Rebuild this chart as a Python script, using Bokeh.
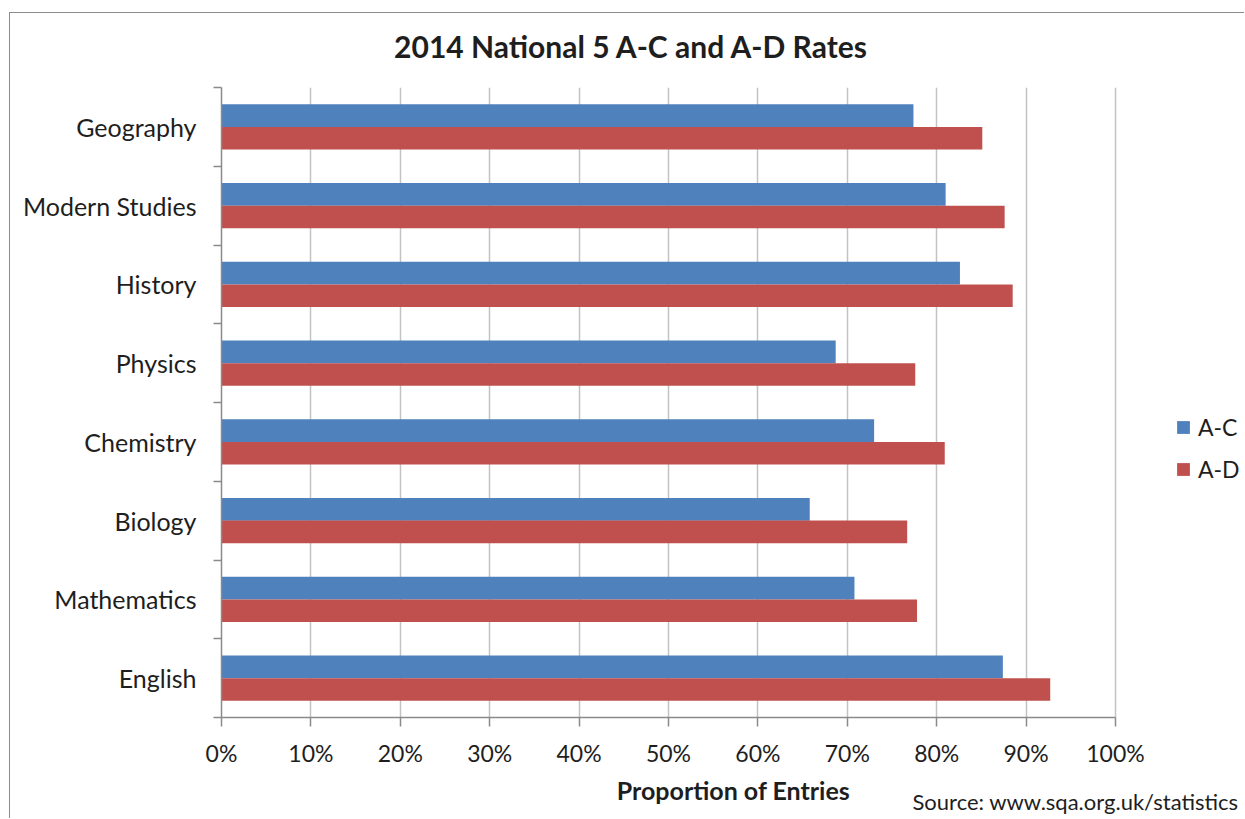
from bokeh.plotting import figure
from bokeh.models import (Range1d, FixedTicker, PrintfTickFormatter, Label,
                          Legend, LegendItem, ColumnDataSource)
from bokeh.embed import file_html
from bokeh.resources import INLINE

# ---- data (bottom to top, as in the chart) ----
subjects = ["English", "Mathematics", "Biology", "Chemistry", "Physics",
            "History", "Modern Studies", "Geography"]
rate_ac = [87.4, 70.8, 65.8, 73.0, 68.7, 82.6, 81.0, 77.4]
rate_ad = [92.7, 77.8, 76.7, 80.9, 77.6, 88.5, 87.6, 85.1]
x_tick_values = [0, 10, 20, 30, 40, 50, 60, 70, 80, 90, 100]
series_names = ["A-C", "A-D"]

title_text = "2014 National 5 A-C and A-D Rates"
x_label = "Proportion of Entries"
source_text = "Source: www.sqa.org.uk/statistics"

FONT = "Lato"
BLUE = "#4F81BD"
RED = "#C0504D"
TXT = "#1e1e1e"
AXIS = "#8a8a8a"
GRID = "#c3c3c3"

W, H = 1235, 806
LEFT = 211
PX_PER_UNIT = 8.94          # width of 1 % on screen
x_end = (W - LEFT) / PX_PER_UNIT   # frame runs to the right edge so the legend fits in it

p = figure(width=W, height=H, output_backend="svg", toolbar_location=None,
           x_range=Range1d(0, x_end), y_range=Range1d(0, len(subjects)),
           min_border_left=LEFT, min_border_right=0,
           min_border_top=74, min_border_bottom=102)
p.title = None
p.outline_line_color = None
p.background_fill_color = "white"
p.border_fill_color = "white"
p.styles = {"margin-left": "9px", "margin-top": "12px",
            "border-left": "1px solid #8c8c8c", "border-top": "1px solid #8c8c8c"}

centers = [i + 0.5 for i in range(len(subjects))]
bh = 0.286
src = ColumnDataSource(dict(
    y_ac=[c + bh / 2 for c in centers],
    y_ad=[c - bh / 2 for c in centers],
    ac=rate_ac, ad=rate_ad))

r_ac = p.hbar(y="y_ac", left=0, right="ac", height=bh, source=src,
              fill_color=BLUE, line_color=None)
r_ad = p.hbar(y="y_ad", left=0, right="ad", height=bh, source=src,
              fill_color=RED, line_color=None)

# x axis
xa = p.xaxis[0]
xa.ticker = FixedTicker(ticks=x_tick_values, minor_ticks=[])
xa.bounds = (x_tick_values[0], x_tick_values[-1])
xa.formatter = PrintfTickFormatter(format="%d%%")
xa.axis_line_color = AXIS
xa.axis_line_width = 1.5
xa.major_tick_line_color = AXIS
xa.major_tick_line_width = 1.5
xa.major_tick_out = 9
xa.major_tick_in = 0
xa.major_label_standoff = 12
xa.major_label_text_font = FONT
xa.major_label_text_font_size = "23px"
xa.major_label_text_color = TXT
xa.axis_label = x_label
xa.axis_label_text_font = FONT
xa.axis_label_text_font_size = "25px"
xa.axis_label_text_font_style = "bold"
xa.axis_label_text_color = TXT
xa.axis_label_standoff = 5

# y axis
ya = p.yaxis[0]
ya.ticker = FixedTicker(ticks=centers, minor_ticks=list(range(len(subjects) + 1)))
ya.major_label_overrides = {c: s for c, s in zip(centers, subjects)}
ya.axis_line_color = AXIS
ya.axis_line_width = 1.5
ya.major_tick_out = 0
ya.major_tick_in = 0
ya.minor_tick_out = 8
ya.minor_tick_in = 0
ya.minor_tick_line_color = AXIS
ya.minor_tick_line_width = 1.5
ya.major_label_standoff = 17
ya.major_label_text_font = FONT
ya.major_label_text_font_size = "25px"
ya.major_label_text_color = TXT

p.ygrid.grid_line_color = None
p.xgrid.grid_line_color = GRID
p.xgrid.grid_line_width = 1.5

# title: in the top border, just above the frame (y measured up from its panel bottom)
p.add_layout(Label(x=410, y=42, x_units="screen", y_units="screen",
                   text=title_text, text_font=FONT, text_font_size="30px",
                   text_font_style="bold", text_color=TXT,
                   text_align="center", text_baseline="middle"), "above")

# source note: stacked above the title panel, pushed down below the x axis
p.add_layout(Label(x=691, y=-750, x_units="screen", y_units="screen",
                   text=source_text, text_font=FONT, text_font_size="22px",
                   text_color=TXT, text_align="left",
                   text_baseline="alphabetic"), "above")

legend = Legend(items=[LegendItem(label=series_names[0], renderers=[r_ac]),
                       LegendItem(label=series_names[1], renderers=[r_ad])],
                location=(954, 234), orientation="vertical",
                glyph_width=16, glyph_height=16, label_height=20,
                label_standoff=7, spacing=14, padding=0, margin=0,
                border_line_color=None, background_fill_alpha=0,
                label_text_font=FONT, label_text_font_size="23px",
                label_text_color=TXT)
p.add_layout(legend, "center")

open("out.html", "w").write(file_html(p, INLINE))
